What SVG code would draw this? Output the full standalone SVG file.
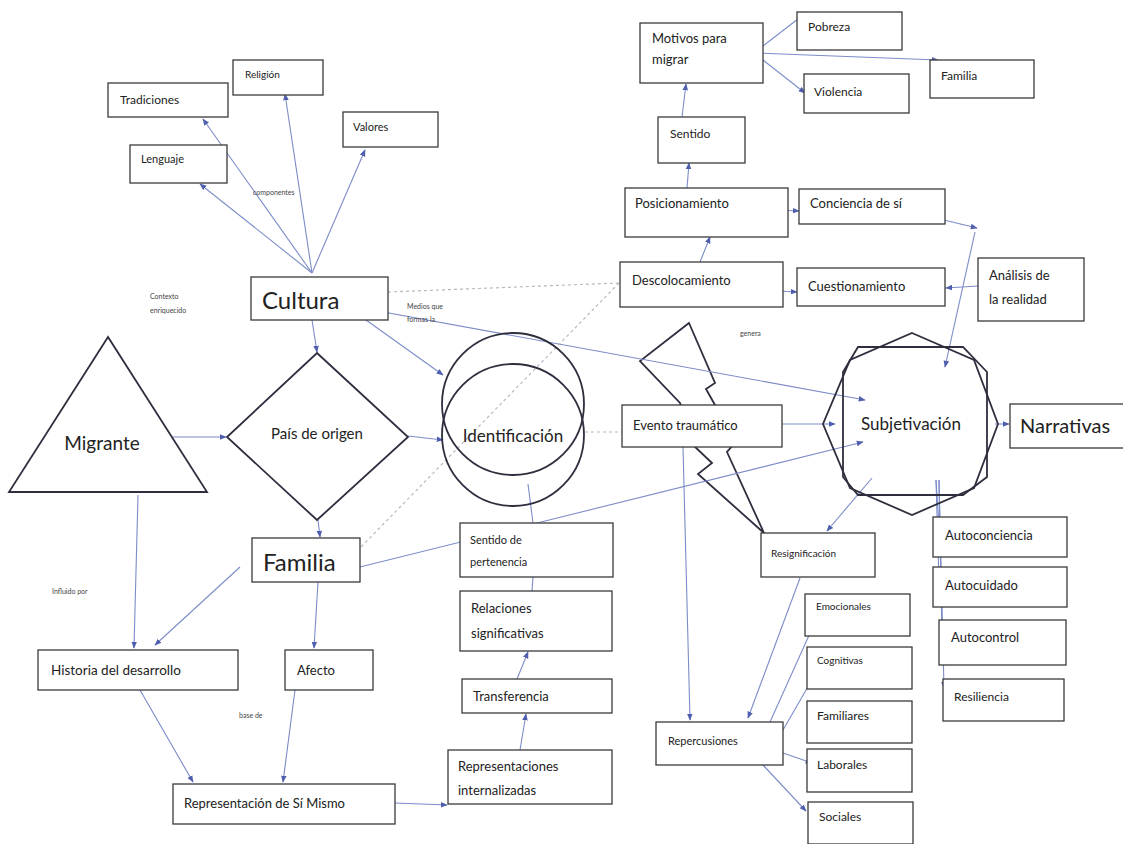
<svg xmlns="http://www.w3.org/2000/svg" width="1123" height="844" viewBox="0 0 1123 844">
<defs>
<marker id="a" viewBox="0 0 10 10" refX="9" refY="5" markerWidth="7" markerHeight="7" orient="auto" markerUnits="userSpaceOnUse"><path d="M0,1 L10,5 L0,9 z" fill="#4f5fae"/></marker>
</defs>
<style>
.b{fill:#fff;stroke:#3a3a3a;stroke-width:1.3}
.s{fill:#fff;stroke:#2e2e3e;stroke-width:1.8}
.t{font-family:Lato,"Liberation Sans",sans-serif;fill:#222}
.c{stroke:#7c8cc8;stroke-width:1.1;fill:none}
.ca{stroke:#7c8cc8;stroke-width:1.1;fill:none;marker-end:url(#a)}
.d{stroke:#b8b8c0;stroke-width:1.2;fill:none;stroke-dasharray:3 3}
.sm{font-family:Lato,"Liberation Sans",sans-serif;fill:#444;font-size:7px}
</style>
<rect width="1123" height="844" fill="#fff"/>
<g id="n-evento-bolt"><polygon class="s" points="689,323 715,383 706,389 715,405 733,445 727,452 764,533 698,474 712,463 693,445 680,403 640,361"/></g>
<g id="connectors">
<line class="ca" x1="312" y1="273" x2="203" y2="119"/>
<line class="ca" x1="312" y1="273" x2="285" y2="94"/>
<line class="ca" x1="312" y1="273" x2="365" y2="150"/>
<line class="ca" x1="312" y1="273" x2="200" y2="184"/>
<line class="ca" x1="312" y1="320" x2="317" y2="352"/>
<line class="ca" x1="173" y1="437" x2="226" y2="437"/>
<line class="ca" x1="318" y1="520" x2="320" y2="537"/>
<line class="ca" x1="345" y1="305" x2="443" y2="375"/>
<line class="ca" x1="408" y1="436" x2="443" y2="440"/>
<line class="ca" x1="345" y1="305" x2="865" y2="400"/>
<line class="ca" x1="360" y1="567" x2="863" y2="442"/>
<line class="c" x1="528" y1="484" x2="533" y2="523"/>
<line class="c" x1="533" y1="577" x2="532" y2="591"/>
<line class="ca" x1="138" y1="495" x2="134" y2="648"/>
<line class="ca" x1="240" y1="567" x2="155" y2="645"/>
<line class="ca" x1="318" y1="582" x2="314" y2="648"/>
<line class="ca" x1="140" y1="690" x2="193" y2="782"/>
<line class="ca" x1="295" y1="690" x2="283" y2="782"/>
<line class="ca" x1="395" y1="803" x2="447" y2="805"/>
<line class="ca" x1="520" y1="750" x2="526" y2="714"/>
<line class="ca" x1="517" y1="679" x2="528" y2="652"/>
<line class="ca" x1="765" y1="424" x2="835" y2="424"/>
<line class="ca" x1="683" y1="447" x2="690" y2="720"/>
<line class="ca" x1="872" y1="478" x2="827" y2="531"/>
<line class="ca" x1="800" y1="578" x2="748" y2="718"/>
<line class="ca" x1="770" y1="722" x2="815" y2="622"/>
<line class="ca" x1="783" y1="730" x2="813" y2="678"/>
<line class="ca" x1="783" y1="753" x2="812" y2="763"/>
<line class="ca" x1="763" y1="765" x2="806" y2="811"/>
<line class="ca" x1="995" y1="424" x2="1009" y2="424"/>
<line class="ca" x1="936" y1="480" x2="939" y2="525"/>
<line class="ca" x1="936" y1="480" x2="939" y2="582"/>
<line class="ca" x1="939" y1="480" x2="942" y2="638"/>
<line class="ca" x1="939" y1="480" x2="944" y2="688"/>
<line class="ca" x1="682" y1="117" x2="686" y2="84"/>
<line class="ca" x1="754" y1="53" x2="807" y2="12"/>
<line class="ca" x1="754" y1="53" x2="938" y2="60"/>
<line class="ca" x1="754" y1="53" x2="805" y2="93"/>
<line class="ca" x1="687" y1="188" x2="689" y2="163"/>
<line class="ca" x1="777" y1="210" x2="799" y2="211"/>
<line class="ca" x1="915" y1="213" x2="977" y2="228"/>
<line class="ca" x1="975" y1="232" x2="945" y2="367"/>
<line class="ca" x1="700" y1="262" x2="710" y2="237"/>
<line class="ca" x1="777" y1="291" x2="797" y2="292"/>
<line class="ca" x1="978" y1="286" x2="946" y2="288"/>
<line class="d" x1="388" y1="292" x2="619" y2="283"/>
<line class="d" x1="619" y1="283" x2="360" y2="548"/>
<line class="d" x1="585" y1="432" x2="622" y2="432"/>
</g>
<g id="n-tradiciones"><rect class="b" x="108" y="83" width="120" height="34"/><text class="t" x="120" y="104" font-size="12">Tradiciones</text></g>
<g id="n-religion"><rect class="b" x="233" y="60" width="90" height="35"/><text class="t" x="245" y="78" font-size="10">Religión</text></g>
<g id="n-valores"><rect class="b" x="343" y="112" width="95" height="35"/><text class="t" x="353" y="131" font-size="11">Valores</text></g>
<g id="n-lenguaje"><rect class="b" x="130" y="145" width="97" height="38"/><text class="t" x="141" y="163" font-size="11">Lenguaje</text></g>
<text class="sm" x="253" y="195">componentes</text>
<g id="n-cultura"><rect class="b" x="251" y="277" width="137" height="43"/><text class="t" x="262" y="309" font-size="24">Cultura</text></g>
<text class="sm" x="150" y="299">Contexto</text>
<text class="sm" x="150" y="313">enriquecido</text>
<text class="sm" x="407" y="309">Medios que</text>
<text class="sm" x="407" y="322">formas la</text>
<g id="n-migrante"><polygon class="s" points="108,337 9,492 207,492"/><text class="t" x="102" y="450" font-size="19" text-anchor="middle">Migrante</text></g>
<g id="n-pais"><polygon class="s" points="317,353 408,437 317,520 227,437"/><text class="t" x="317" y="439" font-size="15" text-anchor="middle">País de origen</text></g>
<g id="n-familia"><rect class="b" x="252" y="538" width="108" height="44"/><text class="t" x="263" y="571" font-size="24">Familia</text></g>
<g id="n-identificacion"><circle cx="513" cy="404" r="71" fill="none" stroke="#2e2e3e" stroke-width="1.8"/><circle cx="513" cy="435" r="71" fill="none" stroke="#2e2e3e" stroke-width="1.8"/><text class="t" x="513" y="442" font-size="17" text-anchor="middle">Identificación</text></g>
<g id="n-evento"><rect class="b" x="622" y="405" width="160" height="42"/><text class="t" x="633" y="430" font-size="13">Evento traumático</text></g>
<g id="n-subjetivacion"><polygon points="858,347 963,347 987,372 987,477 963,495 858,495 843,477 843,372" fill="none" stroke="#2e2e3e" stroke-width="1.8"/><polygon points="912,333 974,360 998,424 974,488 912,515 850,488 823,424 850,360" fill="none" stroke="#2e2e3e" stroke-width="1.8"/><text class="t" x="911" y="430" font-size="17" text-anchor="middle">Subjetivación</text></g>
<g id="n-narrativas"><rect class="b" x="1010" y="404" width="120" height="44"/><text class="t" x="1020" y="433" font-size="20">Narrativas</text></g>
<g id="n-resignificacion"><rect class="b" x="761" y="533" width="114" height="44"/><text class="t" x="771" y="557" font-size="10">Resignificación</text></g>
<g id="n-repercusiones"><rect class="b" x="656" y="722" width="127" height="43"/><text class="t" x="668" y="745" font-size="11">Repercusiones</text></g>
<g id="n-emocionales"><rect class="b" x="805" y="594" width="105" height="42"/><text class="t" x="816" y="610" font-size="10">Emocionales</text></g>
<g id="n-cognitivas"><rect class="b" x="807" y="647" width="105" height="42"/><text class="t" x="817" y="664" font-size="10">Cognitivas</text></g>
<g id="n-familiares"><rect class="b" x="807" y="701" width="105" height="42"/><text class="t" x="817" y="720" font-size="12">Familiares</text></g>
<g id="n-laborales"><rect class="b" x="807" y="749" width="105" height="43"/><text class="t" x="817" y="769" font-size="12">Laborales</text></g>
<g id="n-sociales"><rect class="b" x="808" y="802" width="105" height="42"/><text class="t" x="819" y="821" font-size="12">Sociales</text></g>
<g id="n-autoconciencia"><rect class="b" x="933" y="517" width="134" height="40"/><text class="t" x="945" y="540" font-size="13">Autoconciencia</text></g>
<g id="n-autocuidado"><rect class="b" x="933" y="567" width="134" height="40"/><text class="t" x="945" y="590" font-size="13">Autocuidado</text></g>
<g id="n-autocontrol"><rect class="b" x="939" y="620" width="127" height="45"/><text class="t" x="951" y="642" font-size="13">Autocontrol</text></g>
<g id="n-resiliencia"><rect class="b" x="943" y="679" width="121" height="42"/><text class="t" x="954" y="701" font-size="12">Resiliencia</text></g>
<g id="n-motivos"><rect class="b" x="640" y="23" width="123" height="60"/><text class="t" x="652" y="43" font-size="13">Motivos para</text><text class="t" x="652" y="64" font-size="13">migrar</text></g>
<g id="n-pobreza"><rect class="b" x="797" y="12" width="105" height="38"/><text class="t" x="808" y="31" font-size="12">Pobreza</text></g>
<g id="n-familia2"><rect class="b" x="930" y="60" width="104" height="38"/><text class="t" x="941" y="80" font-size="12">Familia</text></g>
<g id="n-violencia"><rect class="b" x="804" y="74" width="105" height="39"/><text class="t" x="814" y="96" font-size="12">Violencia</text></g>
<g id="n-sentido"><rect class="b" x="658" y="117" width="87" height="46"/><text class="t" x="670" y="138" font-size="12">Sentido</text></g>
<g id="n-posicionamiento"><rect class="b" x="625" y="188" width="163" height="49"/><text class="t" x="635" y="208" font-size="13">Posicionamiento</text></g>
<g id="n-conciencia"><rect class="b" x="799" y="189" width="146" height="35"/><text class="t" x="810" y="208" font-size="13">Conciencia de sí</text></g>
<g id="n-descolocamiento"><rect class="b" x="620" y="262" width="163" height="45"/><text class="t" x="632" y="285" font-size="13">Descolocamiento</text></g>
<g id="n-cuestionamiento"><rect class="b" x="797" y="268" width="148" height="38"/><text class="t" x="808" y="291" font-size="13">Cuestionamiento</text></g>
<g id="n-analisis"><rect class="b" x="978" y="258" width="106" height="63"/><text class="t" x="989" y="280" font-size="13">Análisis de</text><text class="t" x="989" y="304" font-size="13">la realidad</text></g>
<text class="sm" x="740" y="336" font-size="6">genera</text>
<text class="sm" x="52" y="594">Influido por</text>
<g id="n-historia"><rect class="b" x="38" y="650" width="200" height="40"/><text class="t" x="51" y="675" font-size="13.5">Historia del desarrollo</text></g>
<g id="n-afecto"><rect class="b" x="285" y="650" width="88" height="40"/><text class="t" x="297" y="675" font-size="13">Afecto</text></g>
<text class="sm" x="239" y="718">base de</text>
<g id="n-representacion"><rect class="b" x="173" y="784" width="222" height="40"/><text class="t" x="184" y="808" font-size="13">Representación de Sí Mismo</text></g>
<g id="n-representaciones"><rect class="b" x="448" y="750" width="164" height="54"/><text class="t" x="458" y="771" font-size="13">Representaciones</text><text class="t" x="458" y="795" font-size="13">internalizadas</text></g>
<g id="n-transferencia"><rect class="b" x="462" y="679" width="150" height="34"/><text class="t" x="473" y="701" font-size="13">Transferencia</text></g>
<g id="n-relaciones"><rect class="b" x="460" y="591" width="152" height="60"/><text class="t" x="471" y="613" font-size="13">Relaciones</text><text class="t" x="471" y="638" font-size="13">significativas</text></g>
<g id="n-pertenencia"><rect class="b" x="460" y="523" width="153" height="54"/><text class="t" x="470" y="544" font-size="11">Sentido de</text><text class="t" x="470" y="566" font-size="11">pertenencia</text></g>
</svg>
